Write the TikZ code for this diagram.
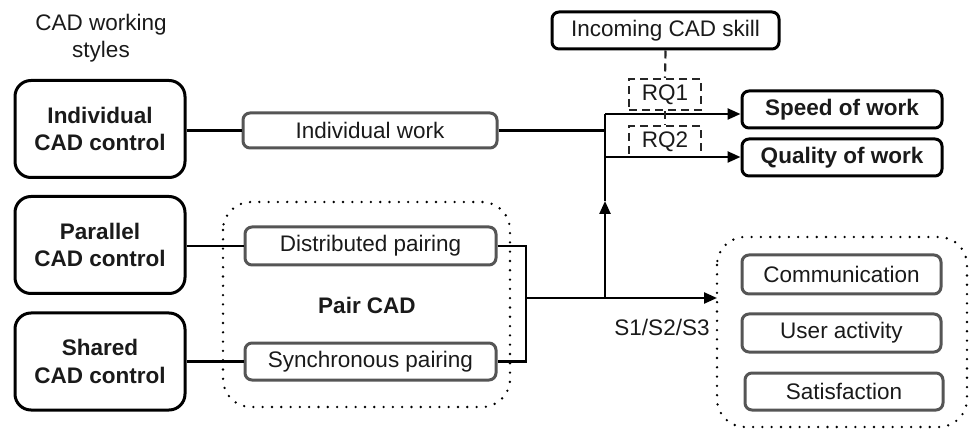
\documentclass[tikz,border=0pt]{standalone}
\usepackage{fontspec}
\setmainfont{Liberation Sans}
\usetikzlibrary{arrows.meta}
\definecolor{boxgray}{HTML}{555555}
\definecolor{txt}{HTML}{1A1A1A}
\begin{document}
\begin{tikzpicture}[x=1pt,y=-1pt,
  every node/.style={font=\fontsize{22.5}{27}\selectfont, text=txt, inner sep=0pt},
  bigbox/.style={draw=black, line width=3pt, rounded corners=16pt, minimum width=170pt, minimum height=97pt, align=center, font=\fontsize{22.5}{27.5}\selectfont\bfseries},
  subbox/.style={draw=boxgray, line width=3pt, rounded corners=7pt, minimum height=37pt},
  outbox/.style={draw=black, line width=3pt, rounded corners=7pt, minimum width=200pt, minimum height=37pt, font=\fontsize{22.5}{26}\selectfont\bfseries},
  rqbox/.style={draw=black!85, line width=2.2pt, dash pattern=on 8pt off 5pt, minimum width=72pt, minimum height=31pt},
  conn/.style={line width=2.4pt, draw=black},
  arr/.style={conn, -{Triangle[length=13pt,width=11pt]}},
  dotbox/.style={line width=2.6pt, line cap=round, dash pattern=on 0pt off 9.3pt, rounded corners=28pt},
  dashln/.style={line width=2.2pt, draw=black!85, dash pattern=on 8pt off 5pt}
]
\useasboundingbox (0,0) rectangle (969,430);

% title
\node[align=center] (title) at (101,38) {CAD working\\styles};

% left boxes
\node[bigbox] (ind) at (100,129) {Individual\\CAD control};
\node[bigbox] (par) at (100,245) {Parallel\\CAD control};
\node[bigbox] (sha) at (100,361.5) {Shared\\CAD control};

% pair cad group
\draw[dotbox] (223,202) rectangle (510,407);
\node[font=\fontsize{22.5}{26}\selectfont\bfseries] (pair) at (367,305) {Pair CAD};

% middle boxes
\node[subbox, minimum width=254pt, minimum height=35pt] (iw) at (370,130.5) {Individual work};
\node[subbox, minimum width=251pt, minimum height=38pt] (dp) at (370.5,246) {Distributed pairing};
\node[subbox, minimum width=251pt] (sp) at (370.5,361.5) {Synchronous pairing};

% top
\node[draw=black, line width=3pt, rounded corners=7pt, minimum width=227pt, minimum height=37pt] (ics) at (665.5,30.5) {Incoming CAD skill};
\node[rqbox] (rq1) at (665,94.5) {RQ1};
\node[rqbox] (rq2) at (665,141.5) {RQ2};

% outcomes
\node[outbox] (speed) at (842,109.5) {Speed of work};
\node[outbox] (qual) at (842,157.5) {Quality of work};

% right group
\draw[dotbox] (717,237) rectangle (967,427);
\node[subbox, minimum width=199pt, minimum height=39pt] (comm) at (841.5,274.5) {Communication};
\node[subbox, minimum width=199pt, minimum height=38pt] (ua) at (841.5,333) {User activity};
\node[subbox, minimum width=198pt, minimum height=37pt] (sat) at (844,391.5) {Satisfaction};

% coordinates
\coordinate (merge) at (526,298);
\coordinate (jn) at (605,298);
\coordinate (mid) at (605,201);
\coordinate (jtop) at (605,114);
\coordinate (jq) at (605,157);
\coordinate (rgt) at (717,298);

% connectors left
\draw[conn] (iw.west -| ind.east) -- (iw.west);
\draw[conn] (dp.west -| par.east) -- (dp.west);
\draw[conn] (sp.west -| sha.east) -- (sp.west);
\draw[conn] (dp.east) -| (merge) |- (sp.east);
\draw[conn] (merge) -- (jn);
\draw[arr] (jn) -- (rgt);
\draw[arr] (jn) -- (mid);
\draw[conn] (mid) -- (jtop);
\draw[conn] (iw.east) -- (iw.east -| jn);
\draw[arr] (jtop) -- (jtop -| speed.west);
\draw[arr] (jq) -- (jq -| qual.west);

% dashed links
\draw[dashln] (ics.south) -- (rq1.north);
\draw[dashln] (rq1.south) -- (rq2.north);

\node (s123) at (662,327) {S1/S2/S3};
\end{tikzpicture}
\end{document}
